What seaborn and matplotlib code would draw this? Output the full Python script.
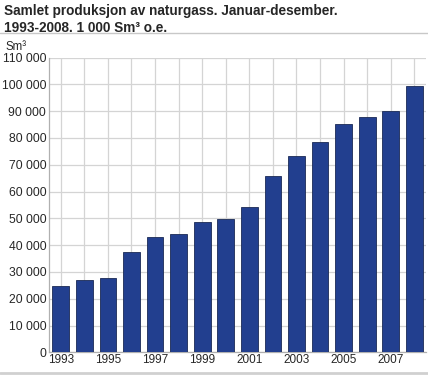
import matplotlib
matplotlib.use("Agg")
import matplotlib.pyplot as plt
import seaborn as sns
import pandas as pd

years = [1993, 1994, 1995, 1996, 1997, 1998, 1999, 2000,
         2001, 2002, 2003, 2004, 2005, 2006, 2007, 2008]
production = [24900, 26900, 27800, 37400, 43100, 44300, 48500, 49900,
              54100, 65700, 73200, 78600, 85100, 87700, 89900, 99400]
y_ticks = list(range(0, 110001, 10000))

title = "Samlet produksjon av naturgass. Januar-desember.\n1993-2008. 1 000 Sm\u00b3 o.e."
unit_label = "Sm\u00b3"

sns.set_style("white")
plt.rcParams["font.family"] = ["Liberation Sans", "DejaVu Sans"]

df = pd.DataFrame({"year": [str(y) for y in years], "value": production})

fig = plt.figure(figsize=(4.28, 3.75), dpi=100)
ax = fig.add_axes([0.1145, 0.0605, 0.881, 0.786])

sns.barplot(data=df, x="year", y="value", color="#223f8f", saturation=1,
            width=0.71, edgecolor="#1a2a55", linewidth=0.6, ax=ax, zorder=3)

ax.set_ylim(0, 110000)
ax.set_xlim(-0.5, len(years) - 0.5)
ax.set_yticks(y_ticks)
ax.set_yticklabels([f"{v:,}".replace(",", " ") for v in y_ticks], fontsize=8.7)
ax.set_xticks(range(len(years)))
ax.set_xticklabels([str(y) if i % 2 == 0 else "" for i, y in enumerate(years)],
                   fontsize=8.5)
ax.tick_params(axis="y", length=0, pad=2)
ax.tick_params(axis="x", length=0, pad=1.5)
ax.set_xlabel("")
ax.set_ylabel("")

ax.grid(True, color="#d4d4d4", linewidth=0.9, zorder=0)
ax.set_axisbelow(True)
for side in ["top", "right"]:
    ax.spines[side].set_visible(False)
for side in ["left", "bottom"]:
    ax.spines[side].set_color("#b0b0b0")
    ax.spines[side].set_linewidth(0.9)

fig.text(0.01, 0.99, title, fontsize=9.8, fontweight="bold", va="top", ha="left",
         linespacing=1.25)
fig.text(0.012, 0.867, unit_label, fontsize=8.3, va="baseline", ha="left")

# separator lines above and below the plot
fig.add_artist(plt.Line2D([0, 1], [0.913, 0.913], color="#c8c8c8", linewidth=1.0))
fig.add_artist(plt.Line2D([0, 1], [0.005, 0.005], color="#d0d0d0", linewidth=2.0))

fig.savefig("out.png", dpi=100)
